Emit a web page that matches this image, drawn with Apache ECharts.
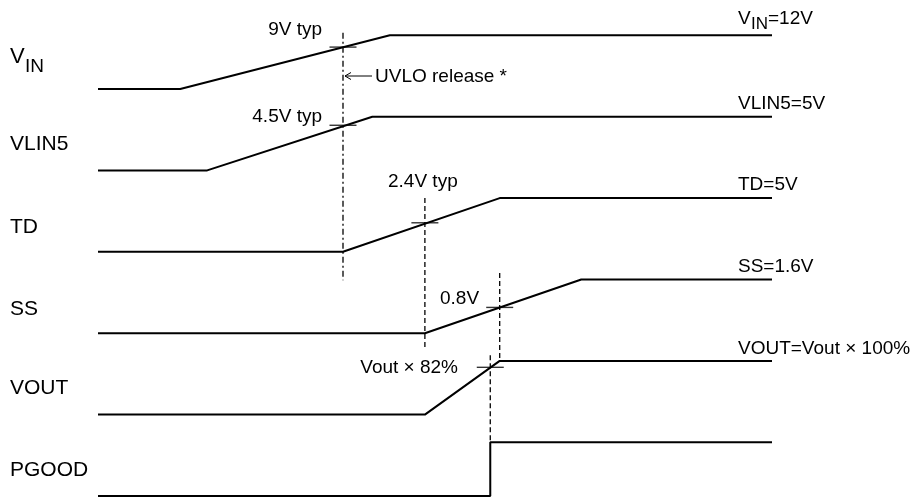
<!DOCTYPE html>
<html>
<head>
<meta charset="utf-8">
<script src="https://cdn.jsdelivr.net/npm/echarts@6/dist/echarts.min.js"></script>
<style>
  html, body { margin: 0; padding: 0; background: #fff; }
  #chart { width: 915px; height: 498px; }
</style>
</head>
<body>
<div id="chart"></div>
<script>
// time runs 0..100 across the plot, each signal sits on its own lane (PGOOD = lane 0)
const signals = ['VIN', 'VLIN5', 'TD', 'SS', 'VOUT', 'PGOOD']
const lanes = [5, 4, 3, 2, 1, 0]

// [time, level] where level 0 = low, 1 = final value
const vinWave = [[0, 0], [12.2, 0], [43.3, 1], [100, 1]]
const vlin5Wave = [[0, 0], [16.2, 0], [40.7, 1], [100, 1]]
const tdWave = [[0, 0], [36.35, 0], [59.6, 1], [100, 1]]
const ssWave = [[0, 0], [48.5, 0], [71.7, 1], [100, 1]]
const voutWave = [[0, 0], [48.5, 0], [59.6, 1], [100, 1]]
const pgoodWave = [[0, 0], [58.2, 0], [58.2, 1], [100, 1]]
const waves = [vinWave, vlin5Wave, tdWave, ssWave, voutWave, pgoodWave]

// threshold crossings: [time, lane, level]
const thresholds = [[36.35, 5, 0.78], [36.35, 4, 0.84], [48.5, 3, 0.54], [59.6, 2, 0.48], [58.2, 1, 0.88]]

// dashed guides: [time, top (lane units), bottom (lane units)]
const guides = [[36.35, 5.69, 2.65], [48.5, 3.66, 1.82], [59.6, 2.74, 1.65], [58.2, 1.73, 0.65]]

const SWING = 0.66
const FONT = '"Liberation Sans", Arial, Helvetica, sans-serif'

const chart = echarts.init(document.getElementById('chart'))

const series = []
waves.forEach((w, i) => {
  series.push({
    name: signals[i],
    type: 'line',
    data: w.map(([t, lv]) => [t, lanes[i] + lv * SWING]),
    showSymbol: false,
    clip: false,
    lineStyle: { color: '#000', width: 2 },
    z: 3
  })
})
guides.forEach((g, i) => {
  series.push({
    type: 'line',
    data: [[g[0], g[1]], [g[0], g[2]]],
    showSymbol: false,
    lineStyle: { color: '#000', width: 1.3, type: i === 0 ? [6, 3, 2, 3] : [5, 3] },
    z: 2
  })
})
series.push({
  type: 'scatter',
  data: thresholds.map(([t, lane, lv]) => [t, lane + lv * SWING]),
  symbol: 'rect',
  symbolSize: [27, 1.4],
  itemStyle: { color: '#000' },
  z: 4
})

function txt(text, x, baseline, size, align) {
  return {
    type: 'text',
    x: x,
    y: baseline - 0.35 * size,
    style: {
      text: text,
      fontSize: size,
      fontFamily: FONT,
      fill: '#000',
      align: align || 'left',
      textAlign: align || 'left',
      verticalAlign: 'middle',
      textVerticalAlign: 'middle'
    }
  }
}

const graphics = [
  // left signal names
  txt('V', 10, 65, 22),
  txt('IN', 25, 73, 19),
  txt('VLIN5', 10, 152, 21),
  txt('TD', 10, 235, 21),
  txt('SS', 10, 317, 21),
  txt('VOUT', 10, 396, 21),
  txt('PGOOD', 10, 478, 21),
  // right final values
  txt('V', 738, 25, 19),
  txt('IN', 751, 30, 17),
  txt('=12V', 768, 25, 19),
  txt('VLIN5=5V', 738, 110, 19),
  txt('TD=5V', 738, 191, 19),
  txt('SS=1.6V', 738, 273, 19),
  txt('VOUT=Vout \u00d7 100%', 738, 355, 19),
  // thresholds
  txt('9V typ', 322, 36, 19, 'right'),
  txt('4.5V typ', 322, 123, 19, 'right'),
  txt('UVLO release *', 375, 83, 19),
  txt('2.4V typ', 388, 188, 19),
  txt('0.8V', 440, 305, 19),
  txt('Vout \u00d7 82%', 458, 374, 19, 'right'),
  // arrow to the UVLO line
  {
    type: 'polyline',
    shape: { points: [[372, 76], [345, 76]] },
    style: { stroke: '#000', lineWidth: 1, fill: null }
  },
  {
    type: 'polyline',
    shape: { points: [[351, 72.5], [345, 76], [351, 79.5]] },
    style: { stroke: '#000', lineWidth: 1, fill: null }
  }
]

chart.setOption({
  animation: false,
  backgroundColor: '#fff',
  grid: { left: 98, right: 143, top: 7.6, bottom: 2 },
  xAxis: { type: 'value', min: 0, max: 100, show: false },
  yAxis: { type: 'value', min: 0, max: 6, show: false, splitLine: { show: false } },
  series: series,
  graphic: graphics
})
</script>
</body>
</html>
